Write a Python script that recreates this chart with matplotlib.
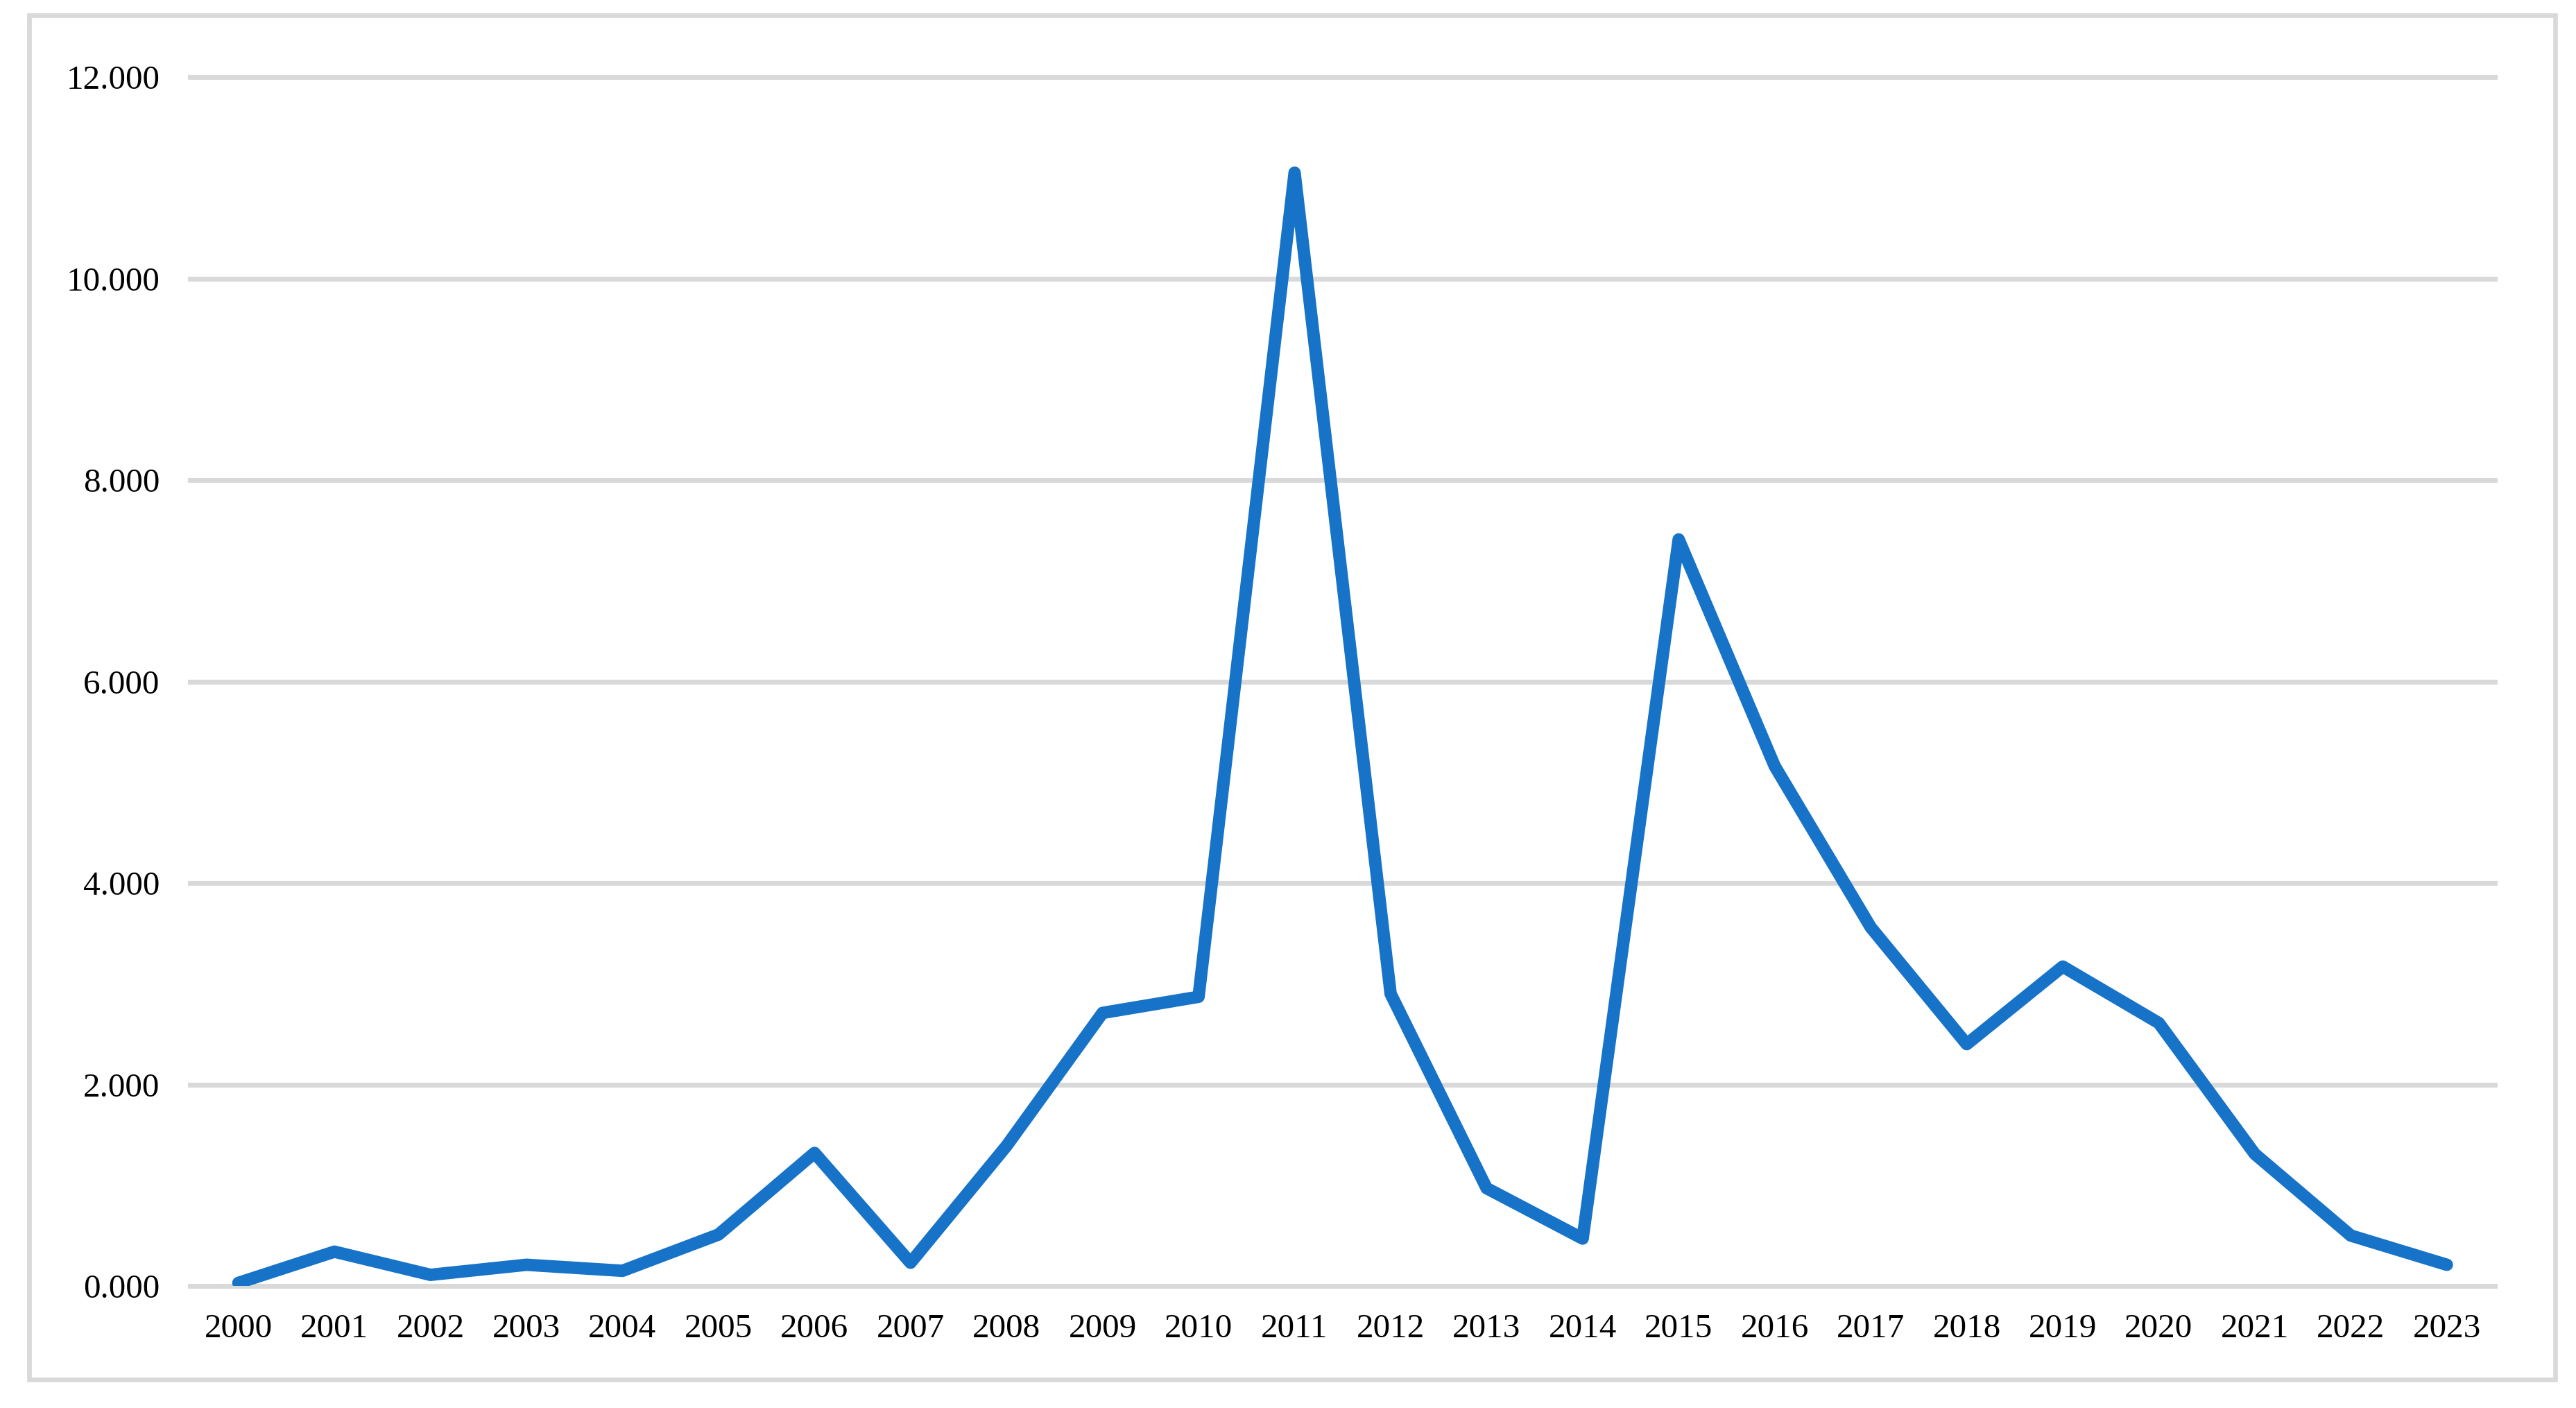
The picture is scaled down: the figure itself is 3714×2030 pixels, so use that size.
import matplotlib
matplotlib.use('Agg')
import matplotlib.pyplot as plt
from matplotlib.patches import Rectangle
import numpy as np

# data
years = [str(y) for y in range(2000, 2024)]
values = [0.03, 0.34, 0.11, 0.21, 0.15, 0.51, 1.32, 0.23, 1.39, 2.71, 2.87, 11.05,
          2.90, 0.97, 0.47, 7.41, 5.16, 3.56, 2.40, 3.17, 2.61, 1.31, 0.50, 0.21]
yticks = [0, 2, 4, 6, 8, 10, 12]

fontsize = 11.8
matplotlib.rc('font', family=['Liberation Serif', 'DejaVu Serif'], size=fontsize)

dpi = 300
fig = plt.figure(figsize=(3714/dpi, 2030/dpi), dpi=dpi)
fig.patch.set_facecolor('white')

# light grey frame round the chart area
fig.patches.append(Rectangle((0.0113, 0.0202), 0.9807, 0.9688, transform=fig.transFigure,
                             fill=False, edgecolor='#D9D9D9', linewidth=1.6, zorder=0))

ax = fig.add_axes([0.0739, 0.0867, 0.8946, 0.8586])
x = np.arange(len(years))
ax.plot(x, values, color='#1773C8', linewidth=4.3, solid_joinstyle='round',
        solid_capstyle='round', zorder=3)

ax.set_xlim(-0.5, len(years) - 0.5)
ax.set_ylim(0, 12)
ax.set_xticks(x)
ax.set_xticklabels(years)
ax.set_yticks(yticks)
ax.set_yticklabels(['%.3f' % v for v in yticks])
for v in yticks:
    ax.axhline(v, color='#D9D9D9', linewidth=1.7, zorder=1, clip_on=False)

for s in ax.spines.values():
    s.set_visible(False)
ax.tick_params(axis='both', length=0, labelsize=fontsize)
ax.tick_params(axis='y', pad=10.5)
ax.tick_params(axis='x', pad=9.5)

fig.savefig('out.png', dpi=dpi, facecolor='white')
